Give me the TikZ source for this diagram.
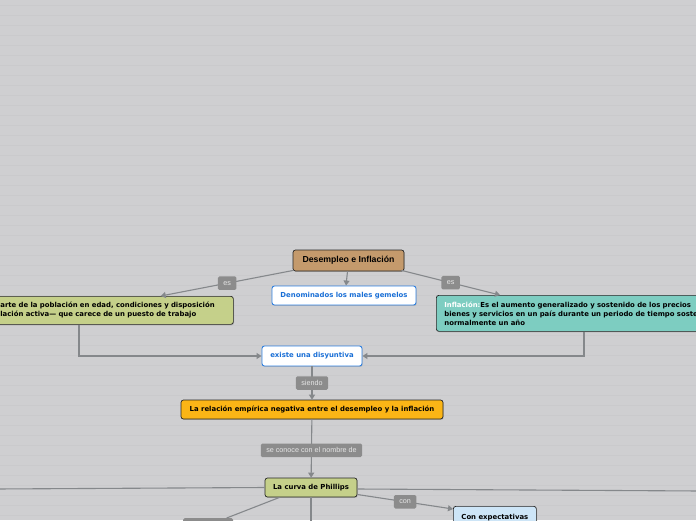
\documentclass[tikz,border=0pt]{standalone}
\usepackage{fontspec}
\setmainfont{DejaVu Sans}
\newfontfamily\labfont{Liberation Sans}
\usetikzlibrary{calc,arrows.meta,shadows}
\definecolor{bg}{HTML}{CFCFD1}
\definecolor{stripe}{HTML}{CACACC}
\definecolor{tanbox}{HTML}{C49A6C}
\definecolor{olivebox}{HTML}{C5D08A}
\definecolor{tealbox}{HTML}{7DCDC1}
\definecolor{orangebox}{HTML}{FBB516}
\definecolor{bluebox}{HTML}{CDE5F7}
\definecolor{blueline}{HTML}{2F80E0}
\definecolor{bluetext}{HTML}{1A6FD6}
\definecolor{edgegray}{HTML}{85888B}
\definecolor{lblfill}{HTML}{8C8C8C}
\definecolor{lbltext}{HTML}{E6E6E6}
\begin{document}
\begin{tikzpicture}[x=1pt,y=-1pt,
  box/.style={draw=black!85, line width=0.7pt, rounded corners=2.5pt, inner sep=0pt,
    drop shadow={shadow xshift=0.7pt, shadow yshift=-0.9pt, opacity=0.35},
    font=\bfseries\fontsize{6.9}{9}\selectfont, text=black},
  wbox/.style={box, draw=blueline, line width=0.9pt, fill=white, text=bluetext},
  lbl/.style={fill=lblfill, text=lbltext, rounded corners=1.5pt, inner xsep=5.5pt, inner ysep=0pt,
    minimum height=13.5pt, font=\labfont\fontsize{7.2}{8}\selectfont},
  link/.style={draw=edgegray, line width=1.1pt},
  arr/.style={link, -{Triangle[length=5pt,width=6pt]}}
]
\clip (0,0) rectangle (696,520);
\fill[bg] (0,0) rectangle (696,520);
\foreach \k in {0,...,51} \draw[stripe, line width=0.8pt] (0,5+10*\k) -- (696,5+10*\k);

\node[box, fill=tanbox, font=\labfont\bfseries\fontsize{8.7}{10}\selectfont, minimum width=111pt, minimum height=21pt] (desemp) at (348.5,260.5) {Desempleo e Inflación};
\node[wbox, minimum width=144pt, minimum height=19pt] (denom) at (344,295.5) {Denominados los males gemelos};
\node[box, fill=olivebox, anchor=north west, inner xsep=8pt, text width=225pt, minimum height=28pt, align=left] (def) at (-8,296) {arte de la población en edad, condiciones y disposición\\lación activa— que carece de un puesto de trabajo};
\node[box, fill=tealbox, anchor=north west, inner xsep=8pt, text width=320pt, minimum height=36pt, align=left] (infl) at (436,295) {{\color{white}Inflación:}Es el aumento generalizado y sostenido de los precios\\bienes y servicios en un país durante un periodo de tiempo sostenido\\normalmente un año};
\node[wbox, minimum width=100pt, minimum height=20pt] (exist) at (312,356) {existe una disyuntiva};
\node[box, fill=orangebox, minimum width=262pt, minimum height=19pt] (rel) at (312,409.5) {La relación empírica negativa entre el desempleo y la inflación};
\node[box, fill=olivebox, minimum width=92pt, minimum height=19pt] (curva) at (311,487.5) {La curva de Phillips};
\node[box, fill=bluebox, anchor=north west, minimum width=83pt, minimum height=22pt] (conexp) at (453,506) {Con expectativas};
\node[lbl, anchor=north west, minimum width=50pt, minimum height=14pt] (lowlbl) at (183,518) {};

\coordinate (leftend) at (-5,489);
\coordinate (rightend) at (701,491);
\coordinate (downend) at (311,526);

\draw[arr] ($(desemp.south west)+(1,-1)$) -- node[lbl]{es} ($(def.north east)+(-73,0)$);
\draw[arr] ($(desemp.south east)+(-3,-1)$) -- node[lbl]{es} ($(infl.north west)+(64,0)$);
\draw[arr] ($(desemp.south)+(-1,0)$) -- ($(denom.north)+(2,0)$);
\draw[arr] ($(def.south west)+(87,0)$) |- (exist.west);
\draw[arr] ($(infl.south west)+(148,0)$) |- (exist.east);
\draw[arr] (exist) -- node[lbl]{siendo} (rel);
\draw[arr] (rel) -- node[lbl, pos=0.53]{se conoce con el nombre de} (curva);
\draw[link] (curva.west) -- (leftend);
\draw[link] ($(curva.east)+(0,1.5)$) -- (rightend);
\draw[link] ($(curva.south west)+(15,0)$) -- (lowlbl);
\draw[link] (curva.south) -- (downend);
\draw[arr] ($(curva.east)+(0,7)$) -- node[lbl]{con} ($(conexp.north west)+(0,3)$);
\end{tikzpicture}
\end{document}
